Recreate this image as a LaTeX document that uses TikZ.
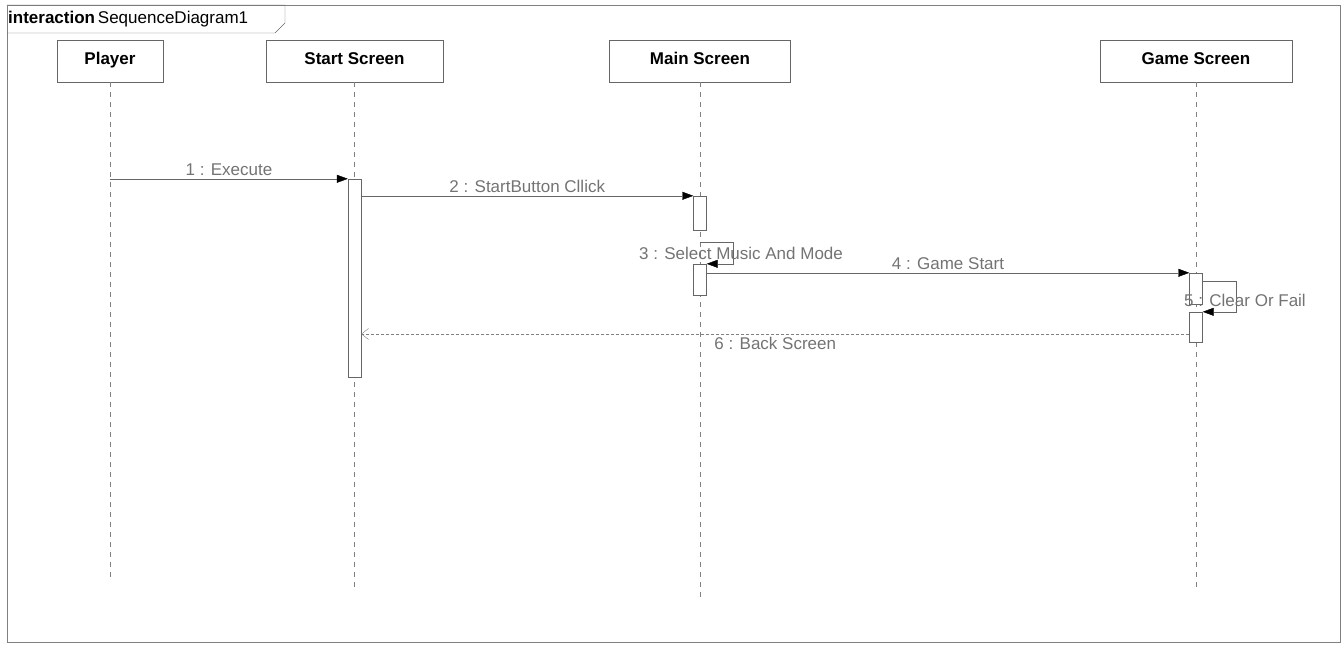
\documentclass[tikz,border=0pt]{standalone}
\usepackage{fontspec}
\setmainfont{Liberation Sans}
\usetikzlibrary{arrows.meta}
\tikzset{
  head/.style={draw=black!60, fill=white, minimum height=42pt, inner sep=0pt, text height=1.6ex, text depth=0.3ex, font=\bfseries\fontsize{17}{20}\selectfont},
  life/.style={draw=black!50, dash pattern=on 5pt off 5pt},
  act/.style={draw=black!60, fill=white, minimum width=13pt, inner sep=0pt},
  msg/.style={draw=black!60, -{Triangle[length=11pt,width=8pt,black]}},
  ret/.style={draw=black!50, dash pattern=on 3pt off 2pt, -{Straight Barb[length=7pt,width=11pt]}},
  lbl/.style={text=black!55, font=\fontsize{17}{20}\selectfont, inner sep=3pt}
}
\begin{document}
\begin{tikzpicture}[x=1pt, y=-1pt]
  \useasboundingbox (0,0) rectangle (1343,645);
  \draw[black!50] (7,5) rectangle (1340,642);
  \draw[black!60] (7,5) -- (285,5) -- (285,23) -- (275,33) -- (7,33);
  \node[anchor=west, inner sep=0pt, font=\fontsize{17}{20}\selectfont] (title) at (8,19) {\textbf{interaction}\,SequenceDiagram1};

  \node[head, minimum width=106pt] (player) at (110,61) {Player};
  \node[head, minimum width=177pt] (start)  at (354.5,61) {Start Screen};
  \node[head, minimum width=181pt] (main)   at (700,61) {Main Screen};
  \node[head, minimum width=192pt] (game)   at (1196,61) {Game Screen};

  \coordinate (playerEnd) at (110,582);
  \coordinate (startEnd)  at (354.5,590);
  \coordinate (mainEnd)   at (700,597);
  \coordinate (gameEnd)   at (1196,590);
  \draw[life] (player) -- (playerEnd);
  \draw[life] (start) -- (startEnd);
  \draw[life] (main) -- (mainEnd);
  \draw[life] (game) -- (gameEnd);

  \node[act, minimum height=198pt] (s1) at (354.5,278) {};
  \node[act, minimum height=34pt]  (m1) at (700,213) {};
  \node[act, minimum height=31pt]  (m2) at (700,279.5) {};
  \node[act, minimum height=31pt]  (g1) at (1196,288.5) {};
  \node[act, minimum height=30pt]  (g2) at (1196,327) {};

  \draw[msg] (player |- s1.north) -- (s1.north west) node[lbl, midway, above] {1 : Execute};
  \draw[msg] (s1.east |- m1.north) -- (m1.north west) node[lbl, midway, above] {2 : StartButton Cllick};
  \draw[msg] ([yshift=22pt]m2.north) -- ++(33,0) |- (m2.north east);
  \node[lbl] (l3) at (741,253) {3 : Select Music And Mode};
  \draw[msg] (m2.east |- g1.north) -- (g1.north west) node[lbl, midway, above] {4 : Game Start};
  \draw[msg] ([yshift=-8pt]g1.north east) -- ++(33,0) |- (g2.north east);
  \node[lbl] (l5) at (1245,300) {5 : Clear Or Fail};
  \draw[ret] ([yshift=-7pt]g2.west) -- (s1.east |- 0,334) node[lbl, midway, below] {6 : Back Screen};
\end{tikzpicture}
\end{document}
